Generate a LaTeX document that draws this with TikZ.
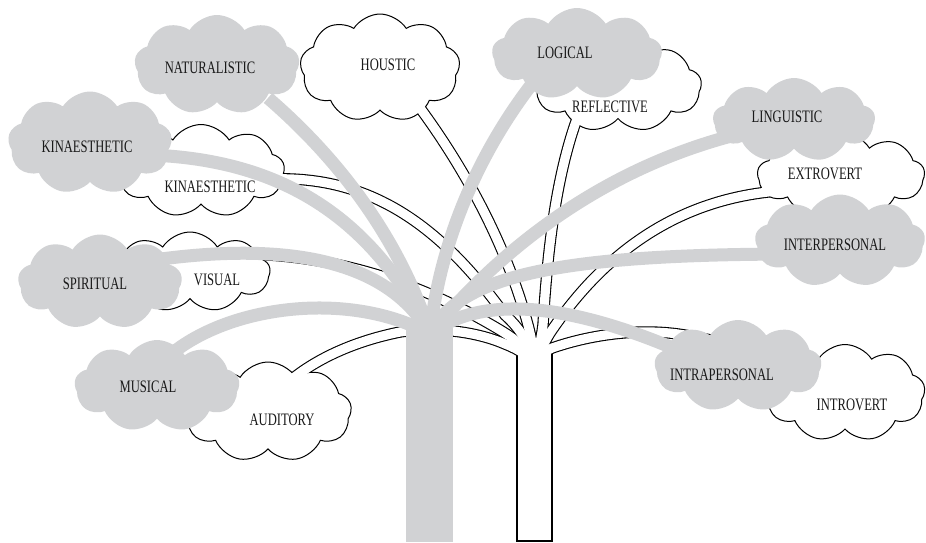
\documentclass[tikz,border=0pt]{standalone}
\usepackage{fontspec}
\setmainfont{Liberation Serif}[FakeStretch=0.72]
\usetikzlibrary{shapes.symbols}
\definecolor{gcol}{RGB}{209,210,212}
\begin{document}
\begin{tikzpicture}[x=1pt,y=-1pt,
  gcloud/.style={cloud, cloud puffs=9, cloud puff arc=115, cloud ignores aspect, fill=gcol, draw=none, inner sep=0pt},
  wcloud/.style={cloud, cloud puffs=9, cloud puff arc=115, cloud ignores aspect, fill=white, draw=black, line width=1pt, inner sep=0pt},
  lbl/.style={font=\fontsize{17.5}{19}\selectfont, inner sep=0pt, text=black!90},
  wB/.style={draw=black, line width=11.4pt},
  wW/.style={draw=white, line width=9.2pt},
  gbr/.style={draw=gcol, line width=13pt},
  pAud/.style={insert path={(wroot) .. controls (530,356) and (520,350) .. (505,344) .. controls (480,333) and (440,326) .. (400,332) .. controls (350,342) and (310,362) .. (eAud)}},
  pVis/.style={insert path={(wroot) .. controls (530,352) and (520,342) .. (500,330) .. controls (420,282) and (330,252) .. (eVis)}},
  pKin/.style={insert path={(wroot) .. controls (532,348) and (522,330) .. (505,315) .. controls (440,225) and (370,175) .. (eKinW)}},
  pHou/.style={insert path={(wroot) .. controls (534,352) and (532,340) .. (528,325) .. controls (505,240) and (460,160) .. (eHou)}},
  pRef/.style={insert path={(wroot) .. controls (538,352) and (541,340) .. (543,325) .. controls (548,240) and (558,170) .. (eRef)}},
  pExt/.style={insert path={(wroot) .. controls (540,352) and (545,340) .. (552,330) .. controls (600,260) and (670,200) .. (eExt)}},
  pIntro/.style={insert path={(wroot) .. controls (540,356) and (545,350) .. (555,347) .. controls (600,332) and (650,328) .. (690,336) .. controls (740,345) and (780,356) .. (eIntro)}},
]
\useasboundingbox (0,0) rectangle (926,542);
% anchor points
\coordinate (wroot) at (534,368);
\coordinate (groot) at (430,334);
\coordinate (eAud) at (284,386);
\coordinate (eVis) at (226,254);
\coordinate (eKinW) at (270,179);
\coordinate (eHou) at (411,96);
\coordinate (eRef) at (578,116);
\coordinate (eExt) at (778,191);
\coordinate (eIntro) at (818,372);
\coordinate (gNat) at (268,98);
\coordinate (gKin) at (150,155);
\coordinate (gSpi) at (140,262);
\coordinate (gMus) at (170,355);
\coordinate (gLog) at (535,80);
\coordinate (gLin) at (735,135);
\coordinate (gInter) at (800,254);
\coordinate (gIntra) at (700,360);

% ---- white tree: black outline pass
\path[wB, pAud];
\path[wB, pVis];
\path[wB, pKin];
\path[wB, pHou];
\path[wB, pRef];
\path[wB, pExt];
\path[wB, pIntro];
\draw[line width=1.1pt] (517,348) -- (517,541) -- (552,541) -- (552,348);

% ---- white clouds
\node[wcloud, minimum width=160pt, minimum height=108pt] (cHou) at (380,68) {};
\node[wcloud, minimum width=167pt, minimum height=92pt] (cRef) at (618,86) {};
\node[wcloud, minimum width=167pt, minimum height=85pt] (cExt) at (841,175) {};
\node[wcloud, minimum width=160pt, minimum height=97pt] (cIntro) at (845,393) {};
\node[wcloud, minimum width=167pt, minimum height=93pt] (cKinW) at (201,171) {};
\node[wcloud, minimum width=160pt, minimum height=80pt] (cVis) at (190,272) {};
\node[wcloud, minimum width=167pt, minimum height=100pt] (cAud) at (268,412) {};

% ---- white tree: white fill pass
\path[wW, pAud];
\path[wW, pVis];
\path[wW, pKin];
\path[wW, pHou];
\path[wW, pRef];
\path[wW, pExt];
\path[wW, pIntro];
\fill[white] (517.55,348) rectangle (551.45,540.45);

% ---- gray tree
\node[gcloud, minimum width=165pt, minimum height=100pt] (cNat) at (217,65) {};
\node[gcloud, minimum width=170pt, minimum height=92pt] (cLog) at (577,54) {};
\node[gcloud, minimum width=162pt, minimum height=84pt] (cLin) at (794,120) {};
\node[gcloud, minimum width=170pt, minimum height=93pt] (cInter) at (840,241) {};
\node[gcloud, minimum width=167pt, minimum height=92pt] (cIntra) at (738,366) {};
\node[gcloud, minimum width=164pt, minimum height=103pt] (cKinG) at (90,143) {};
\node[gcloud, minimum width=164pt, minimum height=95pt] (cSpi) at (100,282) {};
\node[gcloud, minimum width=165pt, minimum height=92pt] (cMus) at (157,386) {};

\draw[gbr] (gNat) .. controls (340,160) and (400,240) .. (groot);
\draw[gbr] (gKin) .. controls (290,160) and (375,225) .. (groot);
\draw[gbr] (gSpi) .. controls (250,245) and (380,245) .. (groot);
\draw[gbr] (gMus) .. controls (230,305) and (350,290) .. (groot);
\draw[gbr] (groot) .. controls (440,240) and (480,150) .. (gLog);
\draw[gbr] (groot) .. controls (500,250) and (600,170) .. (gLin);
\draw[gbr] (groot) .. controls (460,275) and (560,254) .. (gInter);
\draw[gbr] (groot) .. controls (480,295) and (570,300) .. (gIntra);
\node[fill=gcol, inner sep=0pt, minimum width=47pt, minimum height=214pt, anchor=north west] (gtrunk) at (406,328) {};

% ---- labels
\node[lbl] (tNat) at (210,68) {NATURALISTIC};
\node[lbl] (tHou) at (388,65) {HOUSTIC};
\node[lbl] (tLog) at (565,53) {LOGICAL};
\node[lbl] (tRef) at (610,107) {REFLECTIVE};
\node[lbl] (tLin) at (787,117) {LINGUISTIC};
\node[lbl] (tExt) at (825,174) {EXTROVERT};
\node[lbl] (tInter) at (835,245) {INTERPERSONAL};
\node[lbl] (tIntra) at (722,375) {INTRAPERSONAL};
\node[lbl] (tIntro) at (852,405) {INTROVERT};
\node[lbl] (tKinG) at (87,147) {KINAESTHETIC};
\node[lbl] (tKinW) at (210,187) {KINAESTHETIC};
\node[lbl] (tSpi) at (95,284) {SPIRITUAL};
\node[lbl] (tVis) at (217,280) {VISUAL};
\node[lbl] (tMus) at (148,387) {MUSICAL};
\node[lbl] (tAud) at (282,420) {AUDITORY};
\end{tikzpicture}
\end{document}
